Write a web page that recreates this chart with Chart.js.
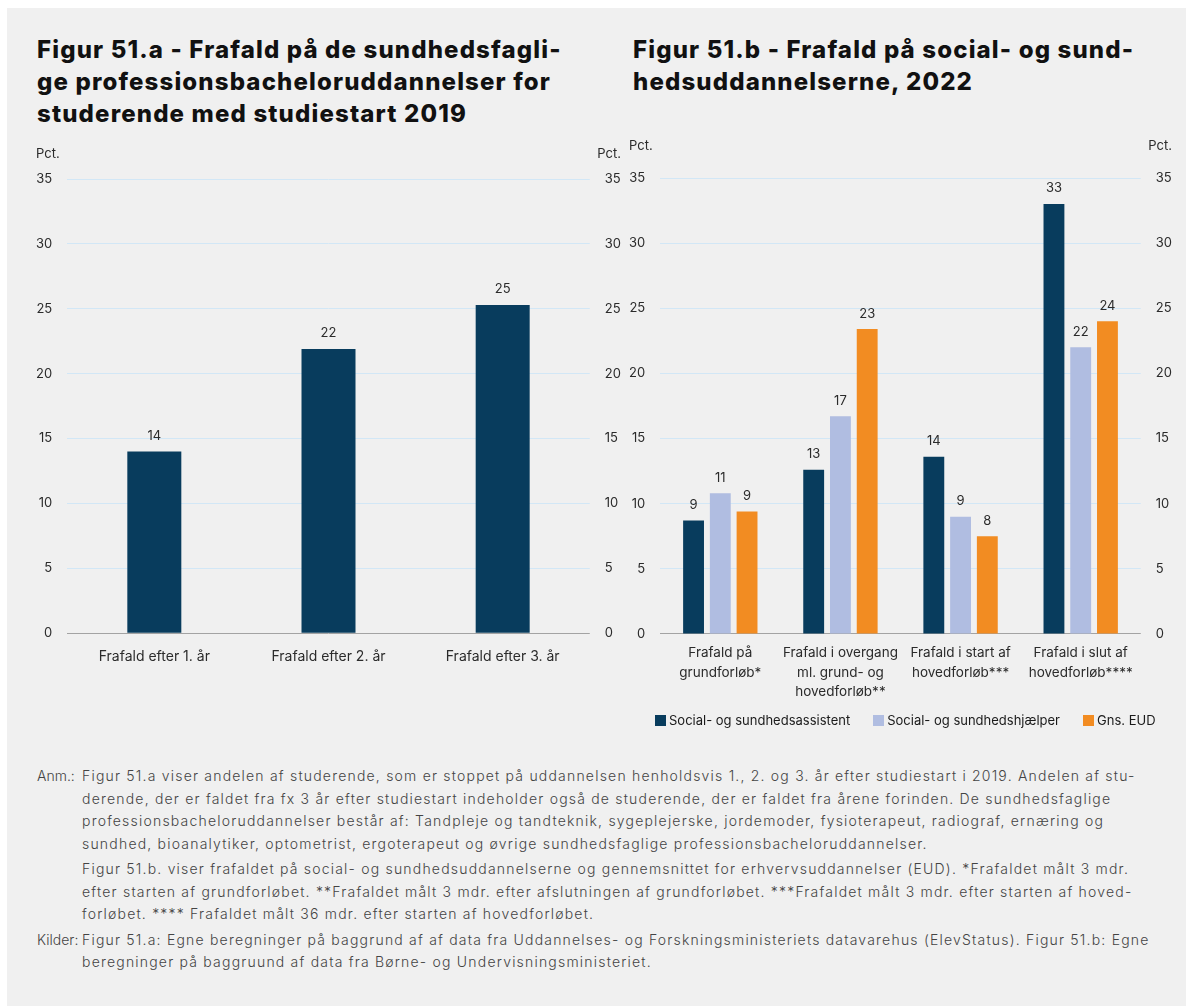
<!DOCTYPE html>
<html>
<head>
<meta charset="utf-8">
<script src="https://cdn.jsdelivr.net/npm/chart.js@4/dist/chart.umd.min.js"></script>
<style>
  body { margin: 0; background: #ffffff; font-family: Inter, "Noto Sans", sans-serif; overflow: hidden; }
  #panel { position: absolute; left: 7px; top: 8px; width: 1179px; height: 998px; background: #f0f0f0; }
  .title { position: absolute; font-weight: 800; font-size: 24px; line-height: 32px; color: #111; white-space: nowrap; letter-spacing: 1.15px; }
  .box { position: absolute; }
  #legendB { position: absolute; left: 655px; top: 711px; height: 18px; display: flex; align-items: center; font-size: 13px; color: #1a1a1a; white-space: nowrap; }
  #legendB .item { display: flex; align-items: center; margin-right: 23px; }
  #legendB .swatch { width: 11px; height: 11px; margin-right: 3px; }
  #notes { position: absolute; left: 37px; top: 765px; font-size: 14px; font-weight: 300; color: #444; line-height: 22.5px; white-space: nowrap; letter-spacing: 1.2px; }
  #notes .row { position: relative; padding-left: 45px; }
  #notes .lead { position: absolute; left: 0; letter-spacing: 0; }
  #notes .gap { height: 3px; }
</style>
</head>
<body>
<div id="panel"></div>

<div class="title" style="left:37px; top:34px;">Figur 51.a - Frafald på de sundhedsfagli-<br>ge professionsbacheloruddannelser for<br>studerende med studiestart 2019</div>
<div class="title" style="left:633px; top:34px;">Figur 51.b - Frafald på social- og sund-<br>hedsuddannelserne, 2022</div>

<div class="box" style="left:15px; top:130px; width:625px; height:560px;"><canvas id="chartA"></canvas></div>
<div class="box" style="left:610px; top:125px; width:580px; height:615px;"><canvas id="chartB"></canvas></div>
<div id="legendB"></div>

<div id="notes">
  <div class="row"><span class="lead">Anm.:</span>Figur 51.a viser andelen af studerende, som er stoppet på uddannelsen henholdsvis 1., 2. og 3. år efter studiestart i 2019. Andelen af stu-</div>
  <div class="row">derende, der er faldet fra fx 3 år efter studiestart indeholder også de studerende, der er faldet fra årene forinden. De sundhedsfaglige</div>
  <div class="row">professionsbacheloruddannelser består af: Tandpleje og tandteknik, sygeplejerske, jordemoder, fysioterapeut, radiograf, ernæring og</div>
  <div class="row">sundhed, bioanalytiker, optometrist, ergoterapeut og øvrige sundhedsfaglige professionsbacheloruddannelser.</div>
  <div class="gap"></div>
  <div class="row">Figur 51.b. viser frafaldet på social- og sundhedsuddannelserne og gennemsnittet for erhvervsuddannelser (EUD). *Frafaldet målt 3 mdr.</div>
  <div class="row">efter starten af grundforløbet. **Frafaldet målt 3 mdr. efter afslutningen af grundforløbet. ***Frafaldet målt 3 mdr. efter starten af hoved-</div>
  <div class="row">forløbet. **** Frafaldet målt 36 mdr. efter starten af hovedforløbet.</div>
  <div class="gap"></div>
  <div class="row"><span class="lead">Kilder:</span>Figur 51.a: Egne beregninger på baggrund af af data fra Uddannelses- og Forskningsministeriets datavarehus (ElevStatus). Figur 51.b: Egne</div>
  <div class="row">beregninger på baggruund af data fra Børne- og Undervisningsministeriet.</div>
</div>

<script>
// Figur 51.a data
const yearLabels = [ 'Frafald efter 1. år', 'Frafald efter 2. år', 'Frafald efter 3. år' ];
const yearValues = [ 14.0, 21.9, 25.3 ];

// Figur 51.b data
const phaseLabels = [
    [ 'Frafald på', 'grundforløb*' ],
    [ 'Frafald i overgang', 'ml. grund- og', 'hovedforløb**' ],
    [ 'Frafald i start af', 'hovedforløb***' ],
    [ 'Frafald i slut af', 'hovedforløb****' ]
];
const seriesNames     = [ 'Social- og sundhedsassistent', 'Social- og sundhedshjælper', 'Gns. EUD' ];
const assistentValues = [ 8.7, 12.6, 13.6, 33.0 ];
const hjaelperValues  = [ 10.8, 16.7, 9.0, 22.0 ];
const eudValues       = [ 9.4, 23.4, 7.5, 24.0 ];

// y axis
const yMax  = 35;
const yStep = 5;

const navy     = '#083c5d';
const lavender = '#b0bde1';
const orange   = '#f28c22';
const textCol  = '#2b2b2b';
const tickPad  = 15;

Chart.defaults.font.family = 'Inter, "Noto Sans", sans-serif';
Chart.defaults.font.size   = 13;
Chart.defaults.color       = textCol;

/**
 * Value labels above each bar
 */
const valueLabels = {
    id: 'valueLabels',
    afterDatasetsDraw( chart ) {
        let ctx = chart.ctx;
        ctx.save();
        ctx.font         = '13px Inter, "Noto Sans", sans-serif';
        ctx.fillStyle    = textCol;
        ctx.textAlign    = 'center';
        ctx.textBaseline = 'bottom';
        chart.data.datasets.forEach( function( ds, i ) {
            chart.getDatasetMeta( i ).data.forEach( function( bar, j ) {
                ctx.fillText( Math.round( ds.data[ j ] ), bar.x, bar.y - 9 );
            });
        });
        ctx.restore();
    }
};

/**
 * "Pct." over both y axes
 */
const pctLabels = {
    id: 'pctLabels',
    afterDraw( chart, args, opts ) {
        let ctx = chart.ctx;
        let y   = chart.chartArea.top - opts.offset;
        ctx.save();
        ctx.font         = '13px Inter, "Noto Sans", sans-serif';
        ctx.fillStyle    = textCol;
        ctx.textBaseline = 'middle';
        ctx.textAlign    = 'left';
        ctx.fillText( 'Pct.', chart.scales.y.left + tickPad, y );
        ctx.textAlign    = 'right';
        ctx.fillText( 'Pct.', chart.scales.y2.right - tickPad, y );
        ctx.restore();
    }
};

function yScales() {
    let ticks = { stepSize: yStep, padding: tickPad, color: textCol };
    return {
        y: {
            min: 0, max: yMax,
            border: { display: false },
            grid: {
                drawTicks: false,
                color: ( c ) => ( c.tick && c.tick.value === 0 ) ? '#a3a3a3' : '#d2e7f6'
            },
            ticks: ticks
        },
        y2: {
            position: 'right',
            min: 0, max: yMax,
            border: { display: false },
            grid: { drawOnChartArea: false, drawTicks: false },
            ticks: ticks
        }
    };
}

new Chart( document.getElementById( 'chartA' ), {
    type: 'bar',
    data: {
        labels: yearLabels,
        datasets: [{
            label: 'Frafald',
            data: yearValues,
            backgroundColor: navy,
            categoryPercentage: 1,
            barPercentage: 0.31
        }]
    },
    options: {
        responsive: true,
        maintainAspectRatio: false,
        animation: false,
        layout: { padding: { left: 6, right: 4, top: 49, bottom: 10 } },
        scales: Object.assign({
            x: {
                border: { display: false },
                grid: { display: false, drawTicks: false },
                ticks: { padding: 15, color: textCol, maxRotation: 0, font: { size: 14 } }
            }
        }, yScales() ),
        plugins: {
            legend: { display: false },
            tooltip: { enabled: false },
            pctLabels: { offset: 25 }
        }
    },
    plugins: [ valueLabels, pctLabels ]
});

let chartB = new Chart( document.getElementById( 'chartB' ), {
    type: 'bar',
    data: {
        labels: phaseLabels,
        datasets: [
            { label: seriesNames[0], data: assistentValues, backgroundColor: navy },
            { label: seriesNames[1], data: hjaelperValues,  backgroundColor: lavender },
            { label: seriesNames[2], data: eudValues,       backgroundColor: orange }
        ]
    },
    options: {
        responsive: true,
        maintainAspectRatio: false,
        animation: false,
        datasets: { bar: { categoryPercentage: 0.668, barPercentage: 0.78 } },
        layout: { padding: { left: 4, right: 3, top: 53, bottom: 29 } },
        scales: Object.assign({
            x: {
                border: { display: false },
                grid: { display: false, drawTicks: false },
                ticks: { padding: 10, color: textCol, maxRotation: 0, autoSkip: false, font: { size: 13.5, lineHeight: 1.41 } }
            }
        }, yScales() ),
        plugins: {
            legend: { display: false },
            tooltip: { enabled: false },
            pctLabels: { offset: 32 }
        }
    },
    plugins: [ valueLabels, pctLabels ]
});

// Legend for 51.b, built from the chart's datasets
let legendB = document.getElementById( 'legendB' );
chartB.data.datasets.forEach( function( ds ) {
    let item   = document.createElement( 'span' );
    let swatch = document.createElement( 'span' );
    item.className          = 'item';
    swatch.className        = 'swatch';
    swatch.style.background = ds.backgroundColor;
    item.appendChild( swatch );
    item.appendChild( document.createTextNode( ds.label ) );
    legendB.appendChild( item );
});
</script>
</body>
</html>
